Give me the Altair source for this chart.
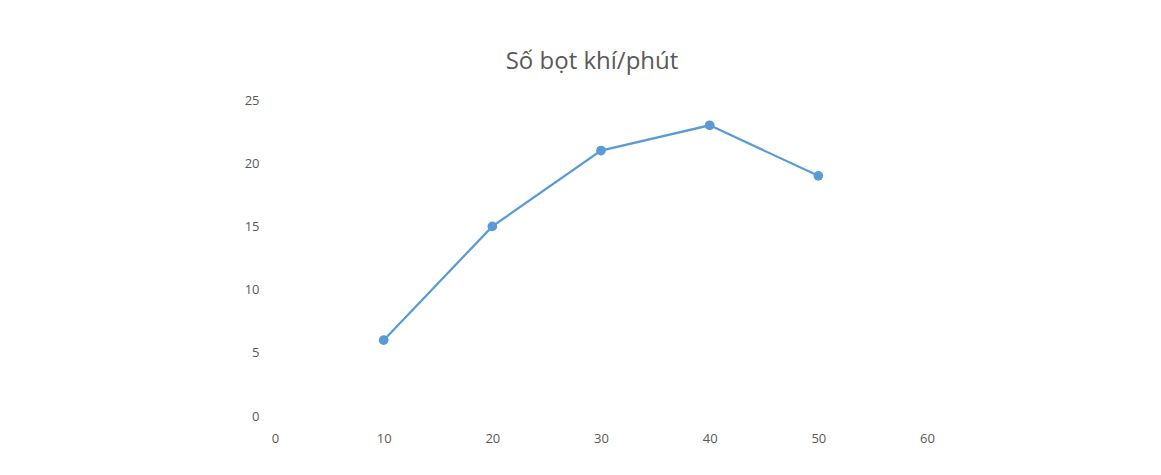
import altair as alt
import pandas as pd

x_vals = [10, 20, 30, 40, 50]
y_vals = [6, 15, 21, 23, 19]
title_text = "Số bọt khí/phút"

df = pd.DataFrame({"x": x_vals, "y": y_vals})

color = "#5B9BD5"
gray = "#595959"
font = "Open Sans"

base = alt.Chart(df).encode(
    x=alt.X("x:Q", scale=alt.Scale(domain=[0, 60], nice=False, zero=True),
            axis=alt.Axis(values=[0, 10, 20, 30, 40, 50, 60], title=None, domain=False,
                          ticks=False, grid=False, labelColor=gray, labelFont=font,
                          labelFontSize=13, labelPadding=16, labelFlush=False)),
    y=alt.Y("y:Q", scale=alt.Scale(domain=[0, 25], nice=False),
            axis=alt.Axis(values=[0, 5, 10, 15, 20, 25], title=None, domain=False,
                          ticks=False, grid=False, labelColor=gray, labelFont=font,
                          labelFontSize=13, labelPadding=16, labelFlush=False)),
)

line = base.mark_line(color=color, strokeWidth=2.25)
pts = base.mark_point(color=color, filled=True, size=95, opacity=1)

chart = (line + pts).properties(
    width=652, height=316,
    autosize="none",
    padding={"left": 267, "top": 92, "right": 10, "bottom": 40},
    title=alt.TitleParams(title_text, font=font, fontSize=24, fontWeight="normal",
                          color=gray, anchor="middle", dx=-9, offset=20),
).configure_view(stroke=None)

chart.save("out.html", embed_options={"renderer": "svg", "actions": False})
